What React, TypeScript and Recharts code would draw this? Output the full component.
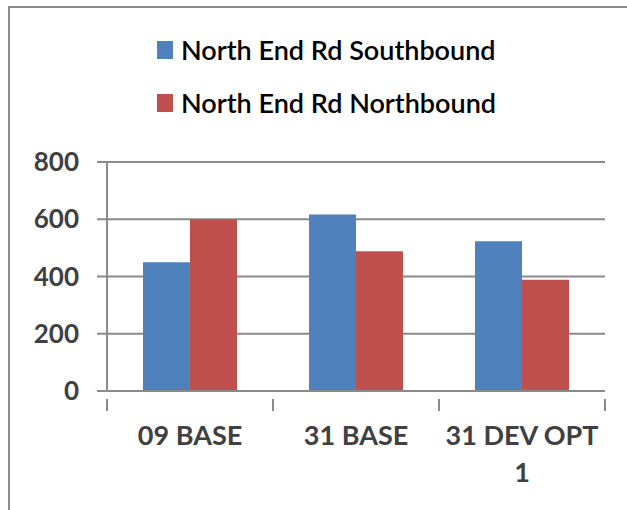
import { Bar, BarChart, CartesianGrid, Legend, XAxis, YAxis } from "recharts";

const categories = ["09 BASE", "31 BASE", "31 DEV OPT\n1"];
const southbound = [450, 617, 523];
const northbound = [600, 488, 389];
const yTicks = [0, 200, 400, 600, 800];
const seriesNames = ["North End Rd Southbound", "North End Rd Northbound"];

const FONT = 'Lato, "Open Sans", sans-serif';
const BLUE = "#4F81BD";
const RED = "#C0504D";
const GRID = "#8a8a8a";

const data = categories.map((name, i) => ({
	name,
	south: southbound[i],
	north: northbound[i],
}));

// tick de catégorie : libellé centré + traits de séparation entre catégories
const CategoryTick = (props: any) => {
	const { x, y, payload, index } = props;
	const half = payload?.offset ?? 83;
	const lines = String(payload.value).split("\n");
	return (
		<g>
			<line x1={x - half} y1={y} x2={x - half} y2={y + 12} stroke={GRID} strokeWidth={2} />
			{index === categories.length - 1 && (
				<line x1={x + half} y1={y} x2={x + half} y2={y + 12} stroke={GRID} strokeWidth={2} />
			)}
			<text
				x={x}
				y={y + 46}
				textAnchor="middle"
				fill="#404040"
				fontFamily={FONT}
				fontSize={27}
				fontWeight={700}
			>
				{lines.map((l, i) => (
					<tspan key={i} x={x} dy={i === 0 ? 0 : 37}>
						{l}
					</tspan>
				))}
			</text>
		</g>
	);
};

const LegendContent = (props: any) => {
	const items = [...(props.payload ?? [])].sort(
		(a: any, b: any) => seriesNames.indexOf(a.value) - seriesNames.indexOf(b.value),
	);
	return (
		<div style={{ fontFamily: FONT }}>
			{items.map((it: any) => (
				<div key={it.value} style={{ height: 53, display: "flex", alignItems: "center" }}>
					<span
						style={{
							display: "inline-block",
							width: 16,
							height: 18,
							background: it.color,
							marginRight: 8,
						}}
					/>
					<span style={{ fontSize: 27, fontWeight: 600, color: "#000", whiteSpace: "nowrap" }}>
						{it.value}
					</span>
				</div>
			))}
		</div>
	);
};

export default function App() {
	return (
		<div
			style={{
				position: "absolute",
				left: 0,
				top: 0,
				width: 627,
				height: 510,
				overflow: "hidden",
				background: "#fff",
			}}
		>
			<div
				style={{
					position: "absolute",
					left: 8,
					top: 6,
					width: 640,
					height: 520,
					borderLeft: "2px solid #8c8c8c",
					borderTop: "2px solid #8c8c8c",
				}}
			/>
			<div style={{ position: "absolute", left: 0, top: 0 }}>
				<BarChart
					width={627}
					height={510}
					data={data}
					margin={{ top: 162, right: 22, bottom: 39, left: 47 }}
					barCategoryGap={36}
					barGap={0}
				>
					<CartesianGrid vertical={false} stroke={GRID} strokeWidth={2} />
					<XAxis
						dataKey="name"
						height={80}
						axisLine={{ stroke: GRID, strokeWidth: 2 }}
						tickLine={false}
						tick={<CategoryTick />}
						interval={0}
					/>
					<YAxis
						width={60}
						domain={[0, 800]}
						ticks={yTicks}
						axisLine={{ stroke: GRID, strokeWidth: 2 }}
						tickLine={{ stroke: GRID, strokeWidth: 2 }}
						tickSize={10}
						tickMargin={18}
						tick={{ fill: "#404040", fontSize: 26, fontWeight: 700, fontFamily: FONT }}
					/>
					<Legend
						layout="vertical"
						align="center"
						verticalAlign="middle"
						wrapperStyle={{ top: 23, left: 157, width: 440 }}
						content={<LegendContent />}
					/>
					<Bar dataKey="south" name={seriesNames[0]} fill={BLUE} isAnimationActive={false} />
					<Bar dataKey="north" name={seriesNames[1]} fill={RED} isAnimationActive={false} />
				</BarChart>
			</div>
		</div>
	);
}
